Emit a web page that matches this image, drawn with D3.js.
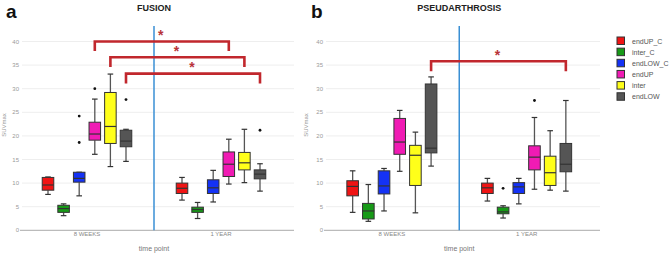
<!DOCTYPE html>
<html><head><meta charset="utf-8">
<script src="https://cdn.jsdelivr.net/npm/d3@7"></script>
<style>body{margin:0;background:#fff;}svg{display:block;font-family:"Liberation Sans",Arial,sans-serif;}</style>
</head><body>
<svg id="chart" width="669" height="253"></svg>
<script>
const groups = ["8 WEEKS", "1 YEAR"];
const series = ["endUP_C", "inter_C", "endLOW_C", "endUP", "inter", "endLOW"];
const seriesColors = ["#f01414", "#179a17", "#1432f5", "#f01bb4", "#ffff1a", "#555555"];
const yTicks = [0, 5, 10, 15, 20, 25, 30, 35, 40];

// FUSION panel: per group, per series
const fusionLow    = [[7.6, 3.1, 7.3, 16.1, 13.5, 14.6], [6.4, 2.5, 6.0, 9.8, 10.1, 8.3]];
const fusionQ1     = [[8.5, 3.8, 10.2, 19.1, 18.4, 17.7], [7.8, 3.8, 7.8, 11.4, 12.8, 10.9]];
const fusionMedian = [[9.6, 4.6, 11.0, 20.4, 22.0, 18.9], [8.9, 4.4, 9.0, 14.0, 14.3, 11.9]];
const fusionQ3     = [[11.2, 5.3, 12.3, 22.9, 29.2, 21.2], [10.0, 4.9, 10.7, 16.6, 16.5, 12.8]];
const fusionHigh   = [[11.3, 5.6, 12.3, 27.8, 33.1, 21.4], [11.2, 5.9, 12.7, 19.3, 21.4, 14.1]];
const fusionOutliers = [[[], [], [24.2, 18.6], [30.0], [], [27.7]], [[], [], [], [], [], [21.2]]];
const fusionSig = [[3, 40.0, 38.0], [4, 36.65, 34.6], [5, 33.2, 31.1]]; // series index, line level, leg end

// PSEUDARTHROSIS panel
const pseudoLow    = [[3.8, 1.9, 4.1, 12.5, 3.7, 13.6], [6.2, 2.6, 5.6, 8.7, 8.5, 8.3]];
const pseudoQ1     = [[7.3, 2.4, 7.7, 16.1, 9.5, 16.4], [7.8, 3.5, 7.8, 12.8, 9.5, 12.4]];
const pseudoMedian = [[9.3, 4.1, 9.4, 18.7, 15.9, 17.4], [9.0, 3.9, 9.2, 15.5, 12.2, 14.0]];
const pseudoQ3     = [[10.5, 5.7, 12.6, 23.7, 18.0, 31.0], [10.0, 4.9, 10.1, 17.9, 15.7, 18.4]];
const pseudoHigh   = [[12.6, 9.7, 13.1, 25.4, 20.8, 32.5], [11.0, 5.2, 11.0, 23.9, 21.1, 27.5]];
const pseudoOutliers = [[[], [], [], [], [], []], [[], [8.9], [], [27.5], [], []]];
const pseudoSig = [[5, 35.8, 33.7]];

const svg = d3.select("#chart");
const y = d3.scaleLinear().domain([0, 40]).range([230.3, 41.5]);

function panel(opt) {
  const g = svg.append("g");
  const x = d3.scaleBand().domain(groups).range(opt.xr).padding(0);
  const xi = d3.scaleBand().domain(series).range([0, x.bandwidth()]).paddingInner(0.26).paddingOuter(1.425);

  // gridlines
  g.selectAll(".grid").data(yTicks.slice(1)).join("line")
    .attr("x1", opt.gx[0]).attr("x2", opt.gx[1])
    .attr("y1", d => y(d)).attr("y2", d => y(d))
    .attr("stroke", "#eeeeee").attr("stroke-width", 1);
  // y tick labels
  g.selectAll(".yl").data(yTicks).join("text")
    .attr("x", opt.gx[0] - 3).attr("y", d => y(d) + 2)
    .attr("text-anchor", "end").attr("font-size", 6).attr("fill", "#9a9a9a").text(d => d);
  // x axis line
  g.append("line").attr("x1", opt.gx[0] - 2).attr("x2", opt.gx[1]).attr("y1", y(0)).attr("y2", y(0))
    .attr("stroke", "#aaaaaa").attr("stroke-width", 1);
  // x labels
  g.selectAll(".xl").data(groups).join("text")
    .attr("x", d => x(d) + x.bandwidth() / 2).attr("y", 236)
    .attr("text-anchor", "middle").attr("font-size", 6).attr("fill", "#888").text(d => d);
  g.append("text").attr("x", (opt.xr[0] + opt.xr[1]) / 2).attr("y", 250.5)
    .attr("text-anchor", "middle").attr("font-size", 7).attr("fill", "#777").text("time point");
  g.append("text").attr("transform", `translate(${opt.ytx},125) rotate(-90)`)
    .attr("text-anchor", "middle").attr("font-size", 6).attr("fill", "#999").text("SUVmax");
  // divider
  g.append("line").attr("x1", x(groups[1])).attr("x2", x(groups[1]))
    .attr("y1", 26).attr("y2", y(0)).attr("stroke", "#3a8fd4").attr("stroke-width", 1.5);
  // title
  g.append("text").attr("x", x(groups[1])).attr("y", 10.5).attr("text-anchor", "middle")
    .attr("font-size", 9).attr("font-weight", "bold").attr("fill", "#222").text(opt.title);
  g.append("text").attr("x", opt.letterX).attr("y", 17.5).attr("font-size", 19)
    .attr("font-weight", "bold").attr("fill", "#111").text(opt.letter);

  const bw = xi.bandwidth();
  groups.forEach((grp, gi) => {
    series.forEach((s, si) => {
      const cx = x(grp) + xi(s) + bw / 2;
      const lo = opt.low[gi][si], q1 = opt.q1[gi][si], md = opt.med[gi][si], q3 = opt.q3[gi][si], hi = opt.high[gi][si];
      const b = g.append("g");
      b.append("line").attr("x1", cx).attr("x2", cx).attr("y1", y(hi)).attr("y2", y(q3)).attr("stroke", "#555").attr("stroke-width", 1.3);
      b.append("line").attr("x1", cx).attr("x2", cx).attr("y1", y(q1)).attr("y2", y(lo)).attr("stroke", "#555").attr("stroke-width", 1.3);
      b.append("line").attr("x1", cx - 2.8).attr("x2", cx + 2.8).attr("y1", y(hi)).attr("y2", y(hi)).attr("stroke", "#333").attr("stroke-width", 1.2);
      b.append("line").attr("x1", cx - 2.8).attr("x2", cx + 2.8).attr("y1", y(lo)).attr("y2", y(lo)).attr("stroke", "#333").attr("stroke-width", 1.2);
      b.append("rect").attr("x", cx - bw / 2).attr("y", y(q3)).attr("width", bw).attr("height", y(q1) - y(q3))
        .attr("fill", seriesColors[si]).attr("stroke", "#333").attr("stroke-width", 1);
      b.append("line").attr("x1", cx - bw / 2).attr("x2", cx + bw / 2).attr("y1", y(md)).attr("y2", y(md)).attr("stroke", "#333").attr("stroke-width", 1.2);
      b.selectAll("circle").data(opt.out[gi][si]).join("circle")
        .attr("cx", cx).attr("cy", d => y(d)).attr("r", 1.4).attr("fill", "#111");
    });
  });

  // significance brackets
  opt.sig.forEach(([si, lvl, leg]) => {
    const x1 = x(groups[0]) + xi(series[si]) + bw / 2;
    const x2 = x(groups[1]) + xi(series[si]) + bw / 2;
    g.append("path").attr("d", `M${x1},${y(leg)}V${y(lvl)}H${x2}V${y(leg)}`)
      .attr("fill", "none").attr("stroke", "#c1272d").attr("stroke-width", 2.6);
    g.append("text").attr("x", (x1 + x2) / 2 - 1).attr("y", y(lvl) - 1.5).attr("text-anchor", "middle")
      .attr("font-size", 14).attr("font-weight", "bold").attr("fill", "#b8333a").text("*");
  });
}

panel({ xr: [20, 288], gx: [22, 294], title: "FUSION", letter: "a", letterX: 6, ytx: 6,
  low: fusionLow, q1: fusionQ1, med: fusionMedian, q3: fusionQ3, high: fusionHigh, out: fusionOutliers, sig: fusionSig });
panel({ xr: [324.5, 594], gx: [326, 600], title: "PSEUDARTHROSIS", letter: "b", letterX: 311, ytx: 308,
  low: pseudoLow, q1: pseudoQ1, med: pseudoMedian, q3: pseudoQ3, high: pseudoHigh, out: pseudoOutliers, sig: pseudoSig });

// legend
const leg = svg.append("g").attr("transform", "translate(617,37)");
series.forEach((s, i) => {
  leg.append("rect").attr("x", 0).attr("y", i * 11.15).attr("width", 7.5).attr("height", 7.5)
    .attr("fill", seriesColors[i]).attr("stroke", "#333").attr("stroke-width", 1);
  leg.append("text").attr("x", 15).attr("y", i * 11.15 + 6.5).attr("font-size", 7).attr("fill", "#555").text(s);
});
</script>
</body></html>
